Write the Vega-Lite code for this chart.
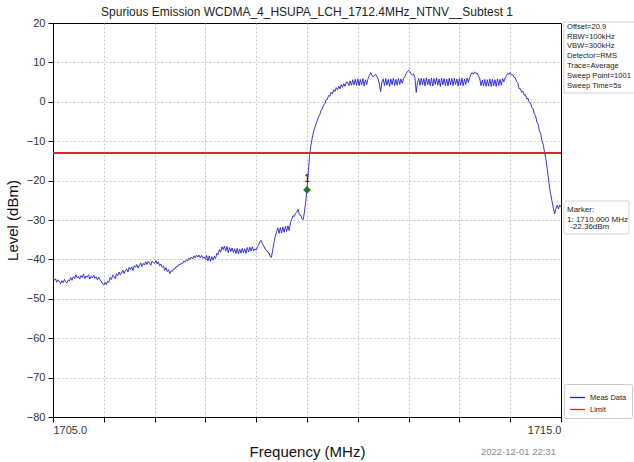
{
  "$schema": "https://vega.github.io/schema/vega-lite/v6.json",
  "width": 508,
  "height": 394,
  "autosize": {"type": "none"},
  "padding": {"left": 53, "top": 23, "right": 73, "bottom": 45},
  "background": "white",
  "config": {
    "font": "Liberation Sans",
    "view": {"stroke": "#000000", "strokeWidth": 1},
    "axis": {
      "domainColor": "#000000",
      "tickColor": "#000000",
      "tickSize": 5,
      "labelColor": "#333333",
      "labelFontSize": 11,
      "titleFontSize": 15,
      "titleFontWeight": "normal",
      "titleColor": "#111111",
      "gridColor": "#b8b8b8",
      "gridDash": [2, 2],
      "gridWidth": 0.8
    }
  },
  "title": {
    "text": "Spurious Emission WCDMA_4_HSUPA_LCH_1712.4MHz_NTNV__Subtest 1",
    "fontSize": 12,
    "fontWeight": "normal",
    "color": "#222222",
    "anchor": "middle",
    "offset": 6,
    "dy": 8
  },
  "datasets": {
    "trace": [
      {"freq":1705.000,"level":-44.5},{"freq":1705.025,"level":-45.3},{"freq":1705.050,"level":-44.9},{"freq":1705.075,"level":-45.8},
      {"freq":1705.100,"level":-45.2},{"freq":1705.125,"level":-45.6},{"freq":1705.150,"level":-46.2},{"freq":1705.175,"level":-45.4},
      {"freq":1705.200,"level":-45.9},{"freq":1705.225,"level":-45.1},{"freq":1705.250,"level":-45.7},{"freq":1705.275,"level":-46.0},
      {"freq":1705.300,"level":-45.2},{"freq":1705.325,"level":-45.5},{"freq":1705.350,"level":-44.6},{"freq":1705.375,"level":-45.3},
      {"freq":1705.400,"level":-44.4},{"freq":1705.425,"level":-44.9},{"freq":1705.450,"level":-43.9},{"freq":1705.475,"level":-44.7},
      {"freq":1705.500,"level":-44.3},{"freq":1705.525,"level":-45.0},{"freq":1705.550,"level":-44.1},{"freq":1705.575,"level":-44.6},
      {"freq":1705.600,"level":-43.8},{"freq":1705.625,"level":-44.9},{"freq":1705.650,"level":-44.2},{"freq":1705.675,"level":-44.5},
      {"freq":1705.700,"level":-43.9},{"freq":1705.725,"level":-45.0},{"freq":1705.750,"level":-44.3},{"freq":1705.775,"level":-44.7},
      {"freq":1705.800,"level":-44.0},{"freq":1705.825,"level":-44.8},{"freq":1705.850,"level":-44.4},{"freq":1705.875,"level":-45.2},
      {"freq":1705.900,"level":-44.5},{"freq":1705.925,"level":-45.1},{"freq":1705.950,"level":-45.6},{"freq":1705.975,"level":-46.2},
      {"freq":1706.000,"level":-46.5},{"freq":1706.025,"level":-45.8},{"freq":1706.050,"level":-46.4},{"freq":1706.075,"level":-45.5},
      {"freq":1706.100,"level":-45.8},{"freq":1706.125,"level":-44.6},{"freq":1706.150,"level":-45.1},{"freq":1706.175,"level":-44.0},
      {"freq":1706.200,"level":-44.3},{"freq":1706.225,"level":-44.9},{"freq":1706.250,"level":-43.6},{"freq":1706.275,"level":-44.1},
      {"freq":1706.300,"level":-43.2},{"freq":1706.325,"level":-43.9},{"freq":1706.350,"level":-43.5},{"freq":1706.375,"level":-42.7},
      {"freq":1706.400,"level":-43.6},{"freq":1706.425,"level":-42.9},{"freq":1706.450,"level":-42.4},{"freq":1706.475,"level":-43.2},
      {"freq":1706.500,"level":-42.0},{"freq":1706.525,"level":-42.6},{"freq":1706.550,"level":-41.9},{"freq":1706.575,"level":-42.8},
      {"freq":1706.600,"level":-41.6},{"freq":1706.625,"level":-42.0},{"freq":1706.650,"level":-41.3},{"freq":1706.675,"level":-42.2},
      {"freq":1706.700,"level":-41.5},{"freq":1706.725,"level":-40.9},{"freq":1706.750,"level":-41.8},{"freq":1706.775,"level":-41.0},
      {"freq":1706.800,"level":-41.4},{"freq":1706.825,"level":-40.6},{"freq":1706.850,"level":-41.3},{"freq":1706.875,"level":-40.5},
      {"freq":1706.900,"level":-40.9},{"freq":1706.925,"level":-41.5},{"freq":1706.950,"level":-40.4},{"freq":1706.975,"level":-40.8},
      {"freq":1707.000,"level":-41.0},{"freq":1707.025,"level":-40.3},{"freq":1707.050,"level":-41.2},{"freq":1707.075,"level":-40.6},
      {"freq":1707.100,"level":-41.6},{"freq":1707.125,"level":-41.2},{"freq":1707.150,"level":-42.0},{"freq":1707.175,"level":-41.7},
      {"freq":1707.200,"level":-42.8},{"freq":1707.225,"level":-42.1},{"freq":1707.250,"level":-43.1},{"freq":1707.275,"level":-42.6},
      {"freq":1707.300,"level":-43.6},{"freq":1707.325,"level":-42.9},{"freq":1707.350,"level":-43.0},{"freq":1707.375,"level":-42.4},
      {"freq":1707.400,"level":-42.4},{"freq":1707.425,"level":-41.8},{"freq":1707.450,"level":-41.9},{"freq":1707.475,"level":-41.3},
      {"freq":1707.500,"level":-41.4},{"freq":1707.525,"level":-40.9},{"freq":1707.550,"level":-41.1},{"freq":1707.575,"level":-40.4},
      {"freq":1707.600,"level":-40.7},{"freq":1707.625,"level":-40.1},{"freq":1707.650,"level":-40.4},{"freq":1707.675,"level":-39.7},
      {"freq":1707.700,"level":-40.0},{"freq":1707.725,"level":-39.4},{"freq":1707.750,"level":-39.9},{"freq":1707.775,"level":-39.1},
      {"freq":1707.800,"level":-39.6},{"freq":1707.825,"level":-38.9},{"freq":1707.850,"level":-39.4},{"freq":1707.875,"level":-38.9},
      {"freq":1707.900,"level":-39.6},{"freq":1707.925,"level":-39.0},{"freq":1707.950,"level":-39.7},{"freq":1707.975,"level":-39.4},
      {"freq":1708.000,"level":-40.0},{"freq":1708.025,"level":-39.0},{"freq":1708.050,"level":-40.4},{"freq":1708.075,"level":-39.1},
      {"freq":1708.100,"level":-40.5},{"freq":1708.125,"level":-39.3},{"freq":1708.150,"level":-40.2},{"freq":1708.175,"level":-39.2},
      {"freq":1708.200,"level":-39.8},{"freq":1708.225,"level":-38.4},{"freq":1708.250,"level":-38.8},{"freq":1708.275,"level":-37.5},
      {"freq":1708.300,"level":-38.2},{"freq":1708.325,"level":-36.8},{"freq":1708.350,"level":-37.5},{"freq":1708.375,"level":-36.6},
      {"freq":1708.400,"level":-37.9},{"freq":1708.425,"level":-36.7},{"freq":1708.450,"level":-38.3},{"freq":1708.475,"level":-37.0},
      {"freq":1708.500,"level":-38.0},{"freq":1708.525,"level":-37.1},{"freq":1708.550,"level":-38.2},{"freq":1708.575,"level":-37.3},
      {"freq":1708.600,"level":-38.5},{"freq":1708.625,"level":-37.2},{"freq":1708.650,"level":-38.6},{"freq":1708.675,"level":-37.4},
      {"freq":1708.700,"level":-38.4},{"freq":1708.725,"level":-37.2},{"freq":1708.750,"level":-38.3},{"freq":1708.775,"level":-37.3},
      {"freq":1708.800,"level":-38.5},{"freq":1708.825,"level":-37.0},{"freq":1708.850,"level":-38.1},{"freq":1708.875,"level":-36.9},
      {"freq":1708.900,"level":-37.9},{"freq":1708.925,"level":-36.8},{"freq":1708.950,"level":-37.8},{"freq":1708.975,"level":-37.3},
      {"freq":1709.000,"level":-37.6},{"freq":1709.025,"level":-36.8},{"freq":1709.050,"level":-36.3},{"freq":1709.075,"level":-35.4},
      {"freq":1709.100,"level":-35.2},{"freq":1709.125,"level":-36.1},{"freq":1709.150,"level":-36.6},{"freq":1709.175,"level":-37.4},
      {"freq":1709.200,"level":-37.6},{"freq":1709.225,"level":-38.1},{"freq":1709.250,"level":-38.4},{"freq":1709.275,"level":-39.2},
      {"freq":1709.300,"level":-39.5},{"freq":1709.325,"level":-37.6},{"freq":1709.350,"level":-35.8},{"freq":1709.375,"level":-34.2},
      {"freq":1709.400,"level":-33.0},{"freq":1709.425,"level":-32.0},{"freq":1709.450,"level":-33.4},{"freq":1709.475,"level":-31.9},
      {"freq":1709.500,"level":-33.3},{"freq":1709.525,"level":-31.8},{"freq":1709.550,"level":-33.1},{"freq":1709.575,"level":-31.6},
      {"freq":1709.600,"level":-32.9},{"freq":1709.625,"level":-31.5},{"freq":1709.650,"level":-32.7},{"freq":1709.675,"level":-30.6},
      {"freq":1709.700,"level":-29.8},{"freq":1709.725,"level":-28.9},{"freq":1709.750,"level":-29.1},{"freq":1709.775,"level":-28.3},
      {"freq":1709.800,"level":-28.0},{"freq":1709.825,"level":-27.3},{"freq":1709.850,"level":-28.6},{"freq":1709.875,"level":-28.7},
      {"freq":1709.900,"level":-29.7},{"freq":1709.925,"level":-29.9},{"freq":1709.950,"level":-28.0},{"freq":1709.975,"level":-25.2},
      {"freq":1710.000,"level":-22.36},{"freq":1710.025,"level":-18.0},{"freq":1710.050,"level":-13.8},{"freq":1710.075,"level":-11.2},
      {"freq":1710.100,"level":-9.4},{"freq":1710.125,"level":-7.9},{"freq":1710.150,"level":-6.7},{"freq":1710.175,"level":-5.7},
      {"freq":1710.200,"level":-4.9},{"freq":1710.225,"level":-3.8},{"freq":1710.250,"level":-3.3},{"freq":1710.275,"level":-2.2},
      {"freq":1710.300,"level":-1.8},{"freq":1710.325,"level":-0.8},{"freq":1710.350,"level":-0.6},{"freq":1710.375,"level":0.5},
      {"freq":1710.400,"level":0.6},{"freq":1710.425,"level":1.6},{"freq":1710.450,"level":1.4},{"freq":1710.475,"level":2.4},
      {"freq":1710.500,"level":2.0},{"freq":1710.525,"level":3.1},{"freq":1710.550,"level":2.6},{"freq":1710.575,"level":3.6},
      {"freq":1710.600,"level":3.0},{"freq":1710.625,"level":4.0},{"freq":1710.650,"level":3.3},{"freq":1710.675,"level":4.4},
      {"freq":1710.700,"level":3.7},{"freq":1710.725,"level":4.6},{"freq":1710.750,"level":3.9},{"freq":1710.775,"level":5.0},
      {"freq":1710.800,"level":4.9},{"freq":1710.825,"level":4.1},{"freq":1710.850,"level":5.3},{"freq":1710.875,"level":4.2},
      {"freq":1710.900,"level":5.6},{"freq":1710.925,"level":4.3},{"freq":1710.950,"level":5.7},{"freq":1710.975,"level":4.2},
      {"freq":1711.000,"level":5.8},{"freq":1711.025,"level":4.1},{"freq":1711.050,"level":5.7},{"freq":1711.075,"level":4.3},
      {"freq":1711.100,"level":5.9},{"freq":1711.125,"level":4.0},{"freq":1711.150,"level":5.6},{"freq":1711.175,"level":4.4},
      {"freq":1711.200,"level":5.8},{"freq":1711.225,"level":6.6},{"freq":1711.250,"level":7.4},{"freq":1711.275,"level":6.8},
      {"freq":1711.300,"level":6.3},{"freq":1711.325,"level":6.7},{"freq":1711.350,"level":7.0},{"freq":1711.375,"level":6.4},
      {"freq":1711.400,"level":5.8},{"freq":1711.425,"level":4.5},{"freq":1711.450,"level":2.6},{"freq":1711.475,"level":5.0},
      {"freq":1711.500,"level":5.8},{"freq":1711.525,"level":4.1},{"freq":1711.550,"level":5.9},{"freq":1711.575,"level":4.2},
      {"freq":1711.600,"level":5.7},{"freq":1711.625,"level":3.9},{"freq":1711.650,"level":5.8},{"freq":1711.675,"level":4.3},
      {"freq":1711.700,"level":6.0},{"freq":1711.725,"level":4.1},{"freq":1711.750,"level":5.7},{"freq":1711.775,"level":4.2},
      {"freq":1711.800,"level":5.9},{"freq":1711.825,"level":4.4},{"freq":1711.850,"level":5.8},{"freq":1711.875,"level":4.7},
      {"freq":1711.900,"level":5.9},{"freq":1711.925,"level":6.3},{"freq":1711.950,"level":7.1},{"freq":1711.975,"level":7.6},
      {"freq":1712.000,"level":8.0},{"freq":1712.025,"level":7.6},{"freq":1712.050,"level":7.0},{"freq":1712.075,"level":6.8},
      {"freq":1712.100,"level":7.1},{"freq":1712.125,"level":6.0},{"freq":1712.150,"level":2.4},{"freq":1712.175,"level":4.9},
      {"freq":1712.200,"level":5.9},{"freq":1712.225,"level":4.2},{"freq":1712.250,"level":6.0},{"freq":1712.275,"level":4.3},
      {"freq":1712.300,"level":5.9},{"freq":1712.325,"level":4.0},{"freq":1712.350,"level":6.1},{"freq":1712.375,"level":4.3},
      {"freq":1712.400,"level":5.8},{"freq":1712.425,"level":4.1},{"freq":1712.450,"level":6.0},{"freq":1712.475,"level":4.0},
      {"freq":1712.500,"level":5.9},{"freq":1712.525,"level":4.4},{"freq":1712.550,"level":6.1},{"freq":1712.575,"level":4.2},
      {"freq":1712.600,"level":5.8},{"freq":1712.625,"level":3.9},{"freq":1712.650,"level":6.0},{"freq":1712.675,"level":4.3},
      {"freq":1712.700,"level":5.9},{"freq":1712.725,"level":4.1},{"freq":1712.750,"level":5.8},{"freq":1712.775,"level":4.0},
      {"freq":1712.800,"level":6.0},{"freq":1712.825,"level":4.3},{"freq":1712.850,"level":5.9},{"freq":1712.875,"level":4.1},
      {"freq":1712.900,"level":6.0},{"freq":1712.925,"level":4.4},{"freq":1712.950,"level":5.8},{"freq":1712.975,"level":4.0},
      {"freq":1713.000,"level":5.9},{"freq":1713.025,"level":4.2},{"freq":1713.050,"level":6.0},{"freq":1713.075,"level":4.1},
      {"freq":1713.100,"level":5.8},{"freq":1713.125,"level":4.4},{"freq":1713.150,"level":6.0},{"freq":1713.175,"level":4.9},
      {"freq":1713.200,"level":6.1},{"freq":1713.225,"level":6.9},{"freq":1713.250,"level":7.4},{"freq":1713.275,"level":7.0},
      {"freq":1713.300,"level":7.6},{"freq":1713.325,"level":7.2},{"freq":1713.350,"level":7.2},{"freq":1713.375,"level":6.6},
      {"freq":1713.400,"level":5.9},{"freq":1713.425,"level":4.1},{"freq":1713.450,"level":5.5},{"freq":1713.475,"level":4.0},
      {"freq":1713.500,"level":5.7},{"freq":1713.525,"level":3.9},{"freq":1713.550,"level":5.6},{"freq":1713.575,"level":4.0},
      {"freq":1713.600,"level":5.8},{"freq":1713.625,"level":3.9},{"freq":1713.650,"level":5.7},{"freq":1713.675,"level":4.1},
      {"freq":1713.700,"level":5.6},{"freq":1713.725,"level":3.9},{"freq":1713.750,"level":5.8},{"freq":1713.775,"level":4.1},
      {"freq":1713.800,"level":5.7},{"freq":1713.825,"level":4.2},{"freq":1713.850,"level":5.9},{"freq":1713.875,"level":5.1},
      {"freq":1713.900,"level":6.1},{"freq":1713.925,"level":6.6},{"freq":1713.950,"level":7.2},{"freq":1713.975,"level":7.0},
      {"freq":1714.000,"level":7.4},{"freq":1714.025,"level":6.8},{"freq":1714.050,"level":6.9},{"freq":1714.075,"level":6.2},
      {"freq":1714.100,"level":6.1},{"freq":1714.125,"level":5.1},{"freq":1714.150,"level":4.8},{"freq":1714.175,"level":3.3},
      {"freq":1714.200,"level":3.3},{"freq":1714.225,"level":2.4},{"freq":1714.250,"level":2.7},{"freq":1714.275,"level":1.7},
      {"freq":1714.300,"level":1.8},{"freq":1714.325,"level":0.7},{"freq":1714.350,"level":0.9},{"freq":1714.375,"level":-0.2},
      {"freq":1714.400,"level":-0.3},{"freq":1714.425,"level":-1.5},{"freq":1714.450,"level":-1.7},{"freq":1714.475,"level":-3.1},
      {"freq":1714.500,"level":-3.6},{"freq":1714.525,"level":-5.1},{"freq":1714.550,"level":-5.7},{"freq":1714.575,"level":-7.4},
      {"freq":1714.600,"level":-8.1},{"freq":1714.625,"level":-9.9},{"freq":1714.650,"level":-10.8},{"freq":1714.675,"level":-12.8},
      {"freq":1714.700,"level":-14.4},{"freq":1714.725,"level":-16.6},{"freq":1714.750,"level":-19.2},{"freq":1714.775,"level":-21.8},
      {"freq":1714.800,"level":-23.6},{"freq":1714.825,"level":-25.4},{"freq":1714.850,"level":-27.0},{"freq":1714.875,"level":-28.4},
      {"freq":1714.900,"level":-27.1},{"freq":1714.925,"level":-26.3},{"freq":1714.950,"level":-27.2},{"freq":1714.975,"level":-26.2},
      {"freq":1715.000,"level":-26.7}
    ],
    "marker": [
      {"freq": 1710.0, "level": -22.36, "label": "1"}
    ]
  },
  "encoding": {
    "x": {
      "field": "freq",
      "type": "quantitative",
      "scale": {"domain": [1705, 1715], "nice": false, "zero": false},
      "axis": {
        "title": "Frequency (MHz)",
        "values": [1705, 1706, 1707, 1708, 1709, 1710, 1711, 1712, 1713, 1714, 1715],
        "labelExpr": "datum.value == 1705 || datum.value == 1715 ? format(datum.value, '.1f') : ''",
        "gridOpacity": {"condition": {"test": "datum.value == 1715", "value": 0}, "value": 1},
        "labelPadding": 2,
        "titlePadding": 9
      }
    },
    "y": {
      "field": "level",
      "type": "quantitative",
      "scale": {"domain": [-80, 20], "nice": false, "zero": false},
      "axis": {
        "title": "Level (dBm)",
        "values": [-80, -70, -60, -50, -40, -30, -20, -10, 0, 10, 20],
        "format": "d",
        "gridOpacity": {"condition": {"test": "datum.value == 20", "value": 0}, "value": 1},
        "labelPadding": 3,
        "titlePadding": 6
      }
    }
  },
  "layer": [
    {
      "data": {"name": "trace"},
      "mark": {"type": "line", "strokeWidth": 0.9, "interpolate": "linear", "clip": false},
      "encoding": {
        "color": {
          "datum": "Meas Data",
          "scale": {"domain": ["Meas Data", "Limit"], "range": ["#2323c8", "#e3242b"]},
          "legend": {
            "title": null,
            "orient": "none",
            "legendX": 511,
            "legendY": 361,
            "symbolType": "stroke",
            "symbolSize": 225,
            "symbolStrokeWidth": 1.3,
            "labelFontSize": 7.5,
            "labelColor": "#222222",
            "labelOffset": 4,
            "padding": 5,
            "rowPadding": -3,
            "strokeColor": "#cccccc",
            "fillColor": "#ffffff",
            "cornerRadius": 2
          }
        }
      }
    },
    {
      "data": {"name": "trace"},
      "mark": {"type": "rule", "strokeWidth": 1},
      "encoding": {
        "x": {"value": 0},
        "x2": {"value": 508},
        "y": {"datum": -13},
        "color": {"datum": "Limit"}
      }
    },
    {
      "data": {"name": "marker"},
      "mark": {"type": "point", "shape": "diamond", "filled": true, "size": 60, "color": "#1c7a1c", "opacity": 1, "clip": false},
      "encoding": {}
    },
    {
      "data": {"name": "marker"},
      "mark": {"type": "text", "fontSize": 10, "dy": -11, "color": "#000000", "clip": false},
      "encoding": {"text": {"field": "label"}}
    },
    {
      "data": {"name": "marker"},
      "mark": {"type": "rect", "fill": "#ffffff", "stroke": "#c8c8c8", "strokeWidth": 0.8, "clip": false},
      "encoding": {
        "x": {"datum": 1715.059}, "x2": {"datum": 1716.6},
        "y": {"datum": 20.25}, "y2": {"datum": 2.23}
      }
    },
    {
      "data": {"name": "marker"},
      "mark": {
        "type": "text",
        "align": "left",
        "baseline": "middle",
        "fontSize": 7.6,
        "lineHeight": 9.83,
        "color": "#222222",
        "clip": false,
        "text": ["Offset=20.9", "RBW=100kHz", "VBW=300kHz", "Detector=RMS", "Trace=Average", "Sweep Point=1001", "Sweep Time=5s"]
      },
      "encoding": {"x": {"datum": 1715.118}, "y": {"datum": 19.06}}
    },
    {
      "data": {"name": "marker"},
      "mark": {"type": "rect", "fill": "#ffffff", "stroke": "#c8c8c8", "strokeWidth": 0.8, "cornerRadius": 2, "clip": false},
      "encoding": {
        "x": {"datum": 1715.059}, "x2": {"datum": 1716.34},
        "y": {"datum": -25.18}, "y2": {"datum": -33.55}
      }
    },
    {
      "data": {"name": "marker"},
      "mark": {
        "type": "text",
        "align": "left",
        "baseline": "middle",
        "fontSize": 8,
        "lineHeight": 9.7,
        "color": "#222222",
        "clip": false,
        "text": ["Marker:", "1: 1710.000 MHz"]
      },
      "encoding": {"x": {"datum": 1715.118}, "y": {"datum": -27.46}}
    },
    {
      "data": {"name": "marker"},
      "mark": {"type": "text", "align": "left", "baseline": "middle", "fontSize": 8, "color": "#222222", "clip": false, "text": "-22.36dBm"},
      "encoding": {"x": {"datum": 1715.18}, "y": {"datum": -31.9}}
    },
    {
      "data": {"name": "marker"},
      "mark": {"type": "text", "align": "right", "baseline": "middle", "fontSize": 9.5, "color": "#8a8a8a", "clip": false, "text": "2022-12-01 22:31"},
      "encoding": {"x": {"datum": 1714.9}, "y": {"datum": -88.88}}
    }
  ]
}
